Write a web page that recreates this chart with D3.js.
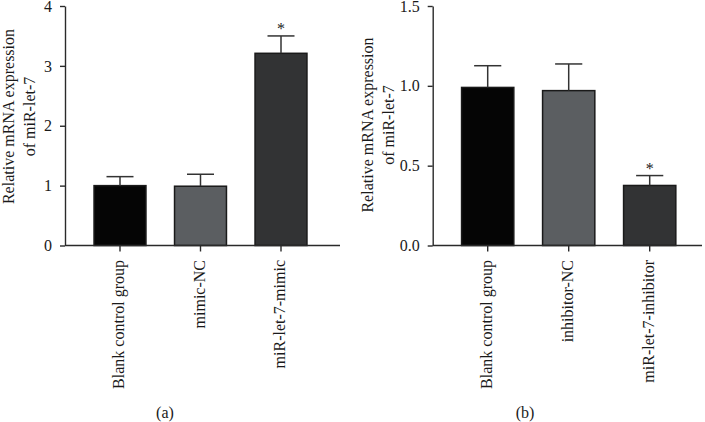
<!DOCTYPE html>
<html>
<head>
<meta charset="utf-8">
<script src="https://cdn.jsdelivr.net/npm/d3@7"></script>
<style>
  html, body { margin: 0; padding: 0; background: #fff; }
  svg { display: block; }
  text { font-family: "Liberation Serif", "Times New Roman", serif; fill: #1a1a1a; }
</style>
</head>
<body>
<svg id="chart" width="705" height="422"></svg>
<script>
// ---- Data ----
const categoriesA = ["Blank control group", "mimic-NC", "miR-let-7-mimic"];
const valuesA = [1.0, 0.99, 3.21];
const errorsA = [0.15, 0.2, 0.29];
const sigA = ["", "", "*"];
const yTicksA = [0, 1, 2, 3, 4];

const categoriesB = ["Blank control group", "inhibitor-NC", "miR-let-7-inhibitor"];
const valuesB = [0.99, 0.97, 0.376];
const errorsB = [0.136, 0.167, 0.062];
const sigB = ["", "", "*"];
const yTicksB = [0.0, 0.5, 1.0, 1.5];

const barColors = ["#050505", "#5b5e61", "#323334"];
const yTitle = ["Relative mRNA expression", "of miR-let-7"];

const svg = d3.select("#chart");

function panel(cfg) {
  const g = svg.append("g");
  const y = d3.scaleLinear().domain(cfg.yDomain).range([245.5, 6]);
  const x = d3.scaleBand().domain(cfg.cats).range(cfg.bandRange)
    .paddingInner(0.355).paddingOuter(0.1775);

  // y axis
  const ya = d3.axisLeft(y).tickValues(cfg.ticks).tickFormat(cfg.fmt)
    .tickSize(5).tickPadding(8).tickSizeOuter(0);
  const yg = g.append("g").attr("transform", `translate(${cfg.axisX},0)`).call(ya);
  yg.select(".domain").attr("stroke", "#2a2a2a").attr("stroke-width", 1.4);
  yg.selectAll(".tick line").attr("stroke", "#2a2a2a").attr("stroke-width", 1.4);
  yg.selectAll(".tick text").attr("font-size", 16).attr("font-family", "Liberation Serif").attr("fill", "#1a1a1a");

  // bars
  g.selectAll("rect.bar").data(cfg.vals).enter().append("rect")
    .attr("x", (d, i) => x(cfg.cats[i]))
    .attr("width", x.bandwidth())
    .attr("y", d => y(d))
    .attr("height", d => y(0) - y(d))
    .attr("fill", (d, i) => barColors[i])
    .attr("stroke", "#1a1a1a").attr("stroke-width", 1.5);

  // error bars (upper only)
  const capW = x.bandwidth() * 0.52;
  cfg.vals.forEach((v, i) => {
    const cx = x(cfg.cats[i]) + x.bandwidth() / 2;
    const top = v + cfg.errs[i];
    g.append("line").attr("x1", cx).attr("x2", cx).attr("y1", y(v)).attr("y2", y(top))
      .attr("stroke", "#333").attr("stroke-width", 1.5);
    g.append("line").attr("x1", cx - capW / 2).attr("x2", cx + capW / 2).attr("y1", y(top)).attr("y2", y(top))
      .attr("stroke", "#333").attr("stroke-width", 1.5);
    if (cfg.sig[i]) {
      g.append("text").attr("x", cx).attr("y", y(top) - 2)
        .attr("text-anchor", "middle").attr("font-size", 16).text(cfg.sig[i]);
    }
  });

  // x axis
  const xa = d3.axisBottom(x).tickSize(6).tickSizeOuter(0);
  const xg = g.append("g").attr("transform", `translate(0,${y(0)})`).call(xa);
  xg.select(".domain").remove();
  xg.selectAll(".tick line").attr("stroke", "#2a2a2a").attr("stroke-width", 1.4);
  xg.selectAll(".tick text")
    .attr("font-size", 16).attr("font-family", "Liberation Serif").attr("fill", "#1a1a1a")
    .attr("text-anchor", "end")
    .attr("transform", "translate(4,14.5) rotate(-90)")
    .attr("x", 0).attr("y", 0).attr("dy", 0);
  g.append("line").attr("x1", cfg.axisX).attr("x2", cfg.axisEnd)
    .attr("y1", y(0)).attr("y2", y(0)).attr("stroke", "#2a2a2a").attr("stroke-width", 1.4);

  // y title
  g.append("text").attr("transform", `translate(${cfg.titleX[0]},${cfg.titleY}) rotate(-90)`)
    .attr("text-anchor", "middle").attr("font-size", 16).text(yTitle[0]);
  g.append("text").attr("transform", `translate(${cfg.titleX[1]},${cfg.titleY}) rotate(-90)`)
    .attr("text-anchor", "middle").attr("font-size", 16).text(yTitle[1]);

  // panel label
  g.append("text").attr("x", cfg.labelX).attr("y", 418)
    .attr("text-anchor", "middle").attr("font-size", 16).text(cfg.label);
}

panel({
  cats: categoriesA, vals: valuesA, errs: errorsA, sig: sigA,
  yDomain: [0, 4], ticks: yTicksA, fmt: d3.format("d"),
  bandRange: [79.75, 321.25], axisX: 65, axisEnd: 340,
  titleX: [13.5, 35], titleY: 116.5, labelX: 165, label: "(a)"
});

panel({
  cats: categoriesB, vals: valuesB, errs: errorsB, sig: sigB,
  yDomain: [0, 1.5], ticks: yTicksB, fmt: d3.format(".1f"),
  bandRange: [447.2, 690.2], axisX: 432.7, axisEnd: 702,
  titleX: [372.5, 394], titleY: 125, labelX: 525, label: "(b)"
});
</script>
</body>
</html>
